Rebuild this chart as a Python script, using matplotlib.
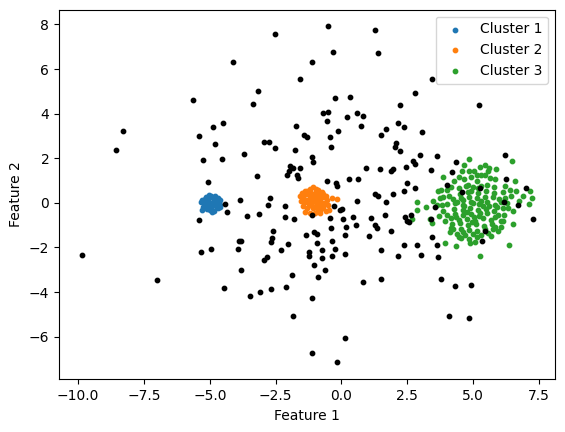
import matplotlib
matplotlib.use('Agg')
import matplotlib.pyplot as plt
import numpy as np

# cluster 1 (tight blob near x=-5)
cluster_1 = [(-4.97, 0.00), (-5.10, 0.10), (-4.85, 0.12), (-5.05, -0.12), (-4.90, -0.15), (-5.20, -0.05),
             (-4.75, 0.00), (-5.30, 0.15), (-5.25, -0.20), (-4.65, 0.05), (-4.60, -0.10), (-4.70, 0.20),
             (-4.95, 0.30), (-5.15, 0.28), (-4.80, 0.30), (-5.32, 0.02), (-5.00, -0.30), (-4.85, -0.35),
             (-5.12, -0.28), (-4.70, -0.25), (-4.60, 0.15), (-5.28, -0.32), (-5.05, 0.20), (-4.88, -0.05),
             (-5.18, 0.18), (-4.78, -0.15), (-5.05, 0.35), (-4.92, -0.40), (-4.62, -0.20), (-5.22, 0.08)]

# cluster 2 (blob near x=-1)
cluster_2 = [(-1.05, 0.10), (-0.95, 0.05), (-1.15, 0.00), (-1.10, 0.20), (-0.90, 0.25), (-1.20, 0.30),
             (-1.00, 0.35), (-0.80, 0.10), (-0.85, -0.10), (-1.25, -0.05), (-1.30, 0.15), (-1.40, 0.05),
             (-1.45, 0.25), (-1.35, 0.40), (-1.15, 0.45), (-0.95, 0.50), (-1.07, 0.69), (-1.20, 0.60),
             (-0.85, 0.40), (-0.70, 0.25), (-0.65, 0.00), (-0.70, -0.20), (-0.90, -0.30), (-1.10, -0.25),
             (-1.30, -0.25), (-1.45, -0.15), (-1.55, 0.10), (-1.58, 0.30), (-1.50, 0.45), (-1.00, -0.45),
             (-1.20, -0.45), (-0.80, -0.45), (-0.60, -0.35), (-0.55, 0.15), (-0.50, -0.10), (-0.75, 0.50),
             (-1.30, 0.55), (-0.98, 0.62), (-1.12, -0.12), (-0.92, -0.05), (-1.02, 0.22), (-0.78, -0.28),
             (-1.38, -0.40), (-0.48, -0.30), (-0.35, 0.20), (-0.16, 0.16), (-1.00, -0.18), (-1.25, 0.12),
             (-0.72, 0.38), (-0.60, 0.32), (-1.40, 0.55), (-0.88, 0.58)]

# cluster 3 (wide cloud near x=5)
cluster_3 = [(4.85, 1.95), (4.66, 1.68), (4.85, 1.41), (4.59, 1.41), (5.27, 1.59), (5.46, 1.68), (5.61, 1.55),
             (5.88, 1.50), (4.93, 1.14), (5.15, 1.23), (5.46, 1.23), (5.65, 1.10), (5.84, 1.05), (4.66, 1.05),
             (4.47, 1.14), (4.28, 0.96), (5.15, 0.96), (4.81, 0.81), (5.00, 0.70), (5.31, 0.74), (5.53, 0.78),
             (5.80, 0.70), (3.84, 1.14), (4.17, 0.70), (3.79, 0.56), (4.02, 0.56), (6.22, 0.74), (6.41, 0.56),
             (6.64, 0.51), (6.60, 0.96), (6.12, 0.47), (5.80, 0.42), (5.50, 0.52), (5.20, 0.45), (4.82, 0.50),
             (4.52, 0.40), (4.09, 0.29), (3.86, 0.25), (4.24, 0.16), (4.55, 0.20), (4.85, 0.25), (5.15, 0.20),
             (5.46, 0.25), (5.76, 0.25), (5.99, 0.16), (6.22, 0.20), (6.45, 0.29), (6.29, -0.02), (6.07, 0.03),
             (5.84, -0.10), (5.53, 0.02), (5.23, -0.05), (4.93, 0.04), (4.62, -0.09), (4.32, -0.02),
             (4.02, -0.07), (3.83, -0.11), (4.28, -0.29), (4.60, -0.34), (4.90, -0.25), (5.20, -0.32),
             (5.50, -0.27), (5.78, -0.36), (5.91, -0.20), (6.14, -0.24), (4.32, -0.48), (4.62, -0.56),
             (4.93, -0.50), (5.23, -0.58), (5.53, -0.47), (5.84, -0.65), (4.02, -0.56), (4.17, -0.70),
             (4.47, -0.78), (4.77, -0.72), (5.08, -0.80), (5.38, -0.68), (5.69, -0.76), (6.14, -0.83),
             (4.19, -0.96), (4.50, -0.92), (4.80, -1.00), (5.10, -0.94), (5.41, -1.02), (5.71, -0.96),
             (5.84, -1.10), (6.07, -1.10), (4.24, -1.19), (4.55, -1.15), (4.85, -1.22), (5.15, -1.28),
             (5.46, -1.16), (5.76, -1.19), (4.40, -1.41), (4.70, -1.46), (5.00, -1.40), (5.31, -1.43),
             (4.55, -1.59), (4.85, -1.64), (5.15, -1.55), (5.69, -1.50), (4.47, -1.55), (4.12, -1.32),
             (3.94, -1.82), (4.36, -1.95), (4.89, -1.82), (5.08, -1.77), (5.27, -2.40), (6.37, -1.91),
             (6.52, -0.96), (7.24, 0.20), (7.17, 0.51), (7.13, -0.07), (6.47, 1.86), (2.85, 0.02),
             (2.88, -0.34), (3.22, -0.20), (3.48, 0.07), (2.69, -0.74), (3.37, -0.74), (3.45, -0.92),
             (3.66, 0.51), (3.76, 0.22), (3.63, -0.08), (3.85, -0.38), (3.72, -0.61), (3.94, -0.83),
             (5.31, 1.26), (5.56, 1.41), (5.05, 1.41), (4.74, 0.74), (4.48, 0.66), (5.94, -0.53),
             (6.19, -0.53), (6.07, -0.83), (6.32, -0.23), (6.51, -0.38), (6.76, 0.07), (6.89, 0.29),
             (5.56, -1.35), (5.94, -1.28), (4.17, -1.13), (4.67, -0.16), (4.93, 0.51), (5.18, 0.66),
             (5.37, -0.16), (4.61, 0.14), (4.99, -0.01), (5.62, -0.16), (4.40, 0.05), (4.75, -0.40),
             (5.05, -0.62), (4.35, -0.62), (5.30, 0.10), (4.95, -0.85), (4.60, -1.30), (5.25, -0.45)]

# noise points (black)
noise = [(-5.63, 4.59), (-8.29, 3.20), (-4.87, 3.40), (-4.49, 3.58), (-5.40, 3.01),
         (-0.50, 7.91), (-2.52, 7.57), (1.28, 7.73), (-0.32, 6.75), (1.39, 6.71), (-4.11, 6.31),
         (-1.11, 6.31), (-1.57, 5.54), (-3.16, 5.01), (-3.35, 4.41), (-0.24, 4.68), (0.33, 4.73),
         (-0.70, 4.01), (-0.50, 4.06), (-0.54, 3.65), (0.22, 3.83), (0.60, 4.01), (0.82, 3.88),
         (0.75, 3.43), (-1.72, 3.43), (-0.13, 3.20), (-1.42, 3.04), (-1.30, 2.94), (-0.43, 2.94),
         (1.51, 3.04), (1.70, 3.29), (3.45, 5.54), (2.80, 4.91), (2.23, 4.37), (5.23, 4.37),
         (2.14, 3.58), (2.38, 3.40), (3.06, 3.16), (-8.56, 2.35), (-4.80, 2.62), (-5.26, 1.90),
         (-4.53, 1.95), (-5.06, 0.92), (-4.42, -0.07), (-4.36, -0.41), (-5.40, -0.77), (-4.97, -2.07),
         (-5.33, -2.22), (-9.85, -2.35), (-7.01, -3.47), (-4.45, -3.83),
         (-2.96, 2.71), (-2.77, 2.71), (-2.54, 2.44), (-1.76, 2.35), (-0.39, 2.49), (-3.70, 2.17),
         (-1.11, 2.04), (-1.07, 1.82), (-1.95, 1.64), (-1.83, 1.55), (-1.57, 1.55), (-1.99, 1.41),
         (-2.06, 1.23), (-1.68, 1.23), (-1.64, 1.10), (-3.20, 1.19), (-0.54, 0.96), (-0.20, 0.87),
         (-0.16, 0.74), (0.29, 1.05), (0.63, 1.05), (0.94, 1.55), (1.47, 1.50), (1.28, 0.38),
         (1.39, 0.29), (1.70, 0.02), (0.60, 0.07), (-3.85, 0.11), (-2.71, 0.20), (-2.78, -0.11),
         (-2.14, -0.16), (-0.28, -0.16), (-0.05, -0.34), (0.03, -0.29), (-3.58, -0.61), (-3.13, -0.52),
         (-2.14, -0.65), (-1.80, -0.74), (-1.11, -0.56), (-0.43, -0.69), (0.07, -0.74), (0.44, -0.65),
         (1.13, -0.69), (1.66, -0.56), (0.18, -1.10), (0.56, -1.01), (-0.39, -1.14), (1.28, -1.01),
         (1.36, -1.14), (-2.59, -1.28), (-1.04, -1.32), (-0.92, -1.41), (-1.34, -1.46), (0.14, -1.46),
         (1.05, -1.50), (-2.63, -1.59), (-3.81, -1.73), (-3.89, -1.73), (-2.69, -1.77), (-0.35, -1.73),
         (-0.92, -1.82), (-2.02, -1.86), (-3.92, -2.08), (-2.29, -2.13), (-1.23, -2.22), (-0.73, -2.13),
         (-0.24, -2.08), (1.51, -2.13), (-1.23, -2.40), (0.14, -2.31), (-0.35, -2.40), (-0.73, -2.49),
         (-2.82, -2.44), (-2.94, -2.58), (-1.04, -2.80),
         (-3.81, -3.00), (-1.87, -3.25), (-0.62, -3.03), (-0.90, -3.34), (-3.47, -4.19), (-3.09, -4.01),
         (-2.67, -3.88), (-2.10, -3.79), (-1.11, -4.28), (-1.83, -5.09), (0.82, -3.56), (1.51, -3.43),
         (0.14, -6.07), (-1.11, -6.75), (-0.16, -7.15),
         (3.79, -3.43), (4.32, -3.74), (4.93, -3.70), (4.09, -5.09), (4.85, -5.18),
         (2.08, 2.67), (2.04, 2.49), (2.23, 2.31), (2.99, 2.13), (3.63, 2.08), (6.22, 2.13), (2.72, 1.86),
         (2.80, 1.73), (2.46, 1.59), (1.96, 1.50), (1.89, 1.41), (3.41, 1.46), (4.36, 1.82), (4.20, 1.37),
         (6.26, 1.05), (2.50, 0.87), (2.80, 0.65), (2.38, 0.52), (1.96, 0.38), (4.01, 0.78), (5.27, 0.65),
         (7.01, 0.65), (4.58, 0.47), (6.18, 0.02), (6.71, -0.11), (3.56, -0.20), (7.28, -0.74),
         (2.42, -0.65), (2.65, -0.56), (2.50, -0.83), (2.57, -0.87), (3.41, -0.74), (1.89, -1.28),
         (3.45, -1.55), (5.46, -1.28), (5.35, -1.73), (2.38, -1.90), (2.87, -1.90), (3.63, -1.90),
         (2.15, -2.40), (3.03, -2.35), (3.67, -2.44)]

cluster_labels = ['Cluster 1', 'Cluster 2', 'Cluster 3']

fig = plt.figure(figsize=(5.65, 4.32), dpi=100)
ax = fig.add_axes([59 / 565, 52.7 / 432, 496 / 565, 369.6 / 432])

for i, (pts, label) in enumerate(zip([cluster_1, cluster_2, cluster_3], cluster_labels)):
    pts = np.array(pts)
    ax.scatter(pts[:, 0], pts[:, 1], s=10, color=f'C{i}', label=label)

noise_pts = np.array(noise)
ax.scatter(noise_pts[:, 0], noise_pts[:, 1], s=10, color='k')

ax.set_xlim(-10.73, 8.11)
ax.set_ylim(-7.91, 8.66)
ax.set_xlabel('Feature 1')
ax.set_ylabel('Feature 2')
ax.legend(loc='upper right')

fig.savefig('out.png', dpi=100)
